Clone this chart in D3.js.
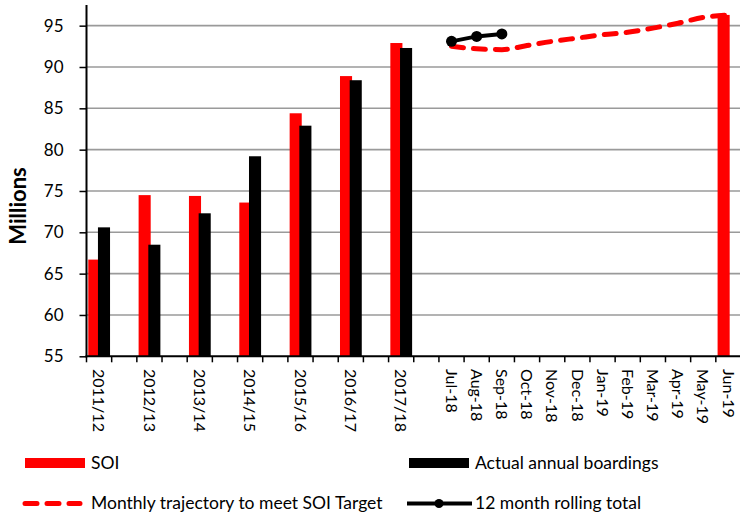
<!DOCTYPE html>
<html>
<head>
<meta charset="utf-8">
<script src="https://cdn.jsdelivr.net/npm/d3@7"></script>
<style>
  html, body { margin: 0; padding: 0; background: #fff; }
  svg { display: block; font-family: Lato, "Open Sans", sans-serif; }
</style>
</head>
<body>
<svg id="chart" width="740" height="516"></svg>
<script>
// ---- data ----
const categories = ["2011/12", "", "2012/13", "", "2013/14", "", "2014/15", "", "2015/16", "", "2016/17", "", "2017/18", "",
  "Jul-18", "Aug-18", "Sep-18", "Oct-18", "Nov-18", "Dec-18", "Jan-19", "Feb-19", "Mar-19", "Apr-19", "May-19", "Jun-19"];
const soi = [66.7, null, 74.5, null, 74.4, null, 73.6, null, 84.4, null, 88.9, null, 92.9, null,
  null, null, null, null, null, null, null, null, null, null, null, 96.3];
const boardings = [70.6, null, 68.5, null, 72.3, null, 79.2, null, 82.9, null, 88.4, null, 92.3, null,
  null, null, null, null, null, null, null, null, null, null, null, null];
const trajectory = [null, null, null, null, null, null, null, null, null, null, null, null, null, null,
  92.5, 92.2, 92.1, 92.6, 93.1, 93.5, 93.9, 94.2, 94.7, 95.3, 96.0, 96.3];
const rolling = [null, null, null, null, null, null, null, null, null, null, null, null, null, null,
  93.1, 93.7, 94.0, null, null, null, null, null, null, null, null, null];
const yTicks = [55, 60, 65, 70, 75, 80, 85, 90, 95];
const yLabel = "Millions";
const legendItems = ["SOI", "Actual annual boardings", "Monthly trajectory to meet SOI Target", "12 month rolling total"];

(function () {
// ---- layout ----
const svg = d3.select("#chart");
const pLeft = 86.5, pRight = 741, pTop = 5, pBottom = 356.3;

const x = d3.scaleBand().domain(d3.range(categories.length)).range([pLeft, pRight]).padding(0);
const y = d3.scaleLinear().domain([55, 97.5]).range([pBottom, pTop]);
const bw = x.bandwidth();

// gridlines
svg.append("g").selectAll("line").data(yTicks.filter(t => t > 55)).join("line")
  .attr("x1", pLeft).attr("x2", 740).attr("y1", d => y(d)).attr("y2", d => y(d))
  .attr("stroke", "#9a9a9a").attr("stroke-width", 1.6);

// bars
const idx = d3.range(categories.length);
svg.append("g").selectAll("rect").data(idx.filter(i => soi[i] != null)).join("rect")
  .attr("x", i => x(i) + 0.07 * bw).attr("width", 0.48 * bw)
  .attr("y", i => y(soi[i])).attr("height", i => pBottom - y(soi[i]))
  .attr("fill", "#ff0000");
svg.append("g").selectAll("rect").data(idx.filter(i => boardings[i] != null)).join("rect")
  .attr("x", i => x(i) + 0.455 * bw).attr("width", 0.48 * bw)
  .attr("y", i => y(boardings[i])).attr("height", i => pBottom - y(boardings[i]))
  .attr("fill", "#000");

// trajectory dashed line
svg.append("path")
  .datum(idx.filter(i => trajectory[i] != null))
  .attr("d", d3.line().x(i => x(i) + bw / 2).y(i => y(trajectory[i])).curve(d3.curveMonotoneX))
  .attr("fill", "none").attr("stroke", "#ff0000").attr("stroke-width", 5)
  .attr("stroke-dasharray", "12,10").attr("stroke-linecap", "round");

// rolling line
const rIdx = idx.filter(i => rolling[i] != null);
svg.append("path").datum(rIdx)
  .attr("d", d3.line().x(i => x(i) + bw / 2).y(i => y(rolling[i])))
  .attr("fill", "none").attr("stroke", "#000").attr("stroke-width", 4);
svg.append("g").selectAll("circle").data(rIdx).join("circle")
  .attr("cx", i => x(i) + bw / 2).attr("cy", i => y(rolling[i])).attr("r", 5.5).attr("fill", "#000");

// y axis
const yAxis = d3.axisLeft(y).tickValues(yTicks).tickSize(7).tickPadding(16).tickFormat(d3.format("d"));
const gy = svg.append("g").attr("transform", `translate(${pLeft},0)`).call(yAxis);
gy.select(".domain").remove();
gy.selectAll(".tick line").attr("stroke", "#000").attr("stroke-width", 1.5);
gy.selectAll(".tick text").attr("font-size", 17).attr("fill", "#000").style("font-family", "Lato, sans-serif");
svg.append("line").attr("x1", pLeft).attr("x2", pLeft).attr("y1", pTop).attr("y2", pBottom + 1)
  .attr("stroke", "#000").attr("stroke-width", 2);

// x axis
svg.append("line").attr("x1", pLeft - 1).attr("x2", 740).attr("y1", pBottom).attr("y2", pBottom)
  .attr("stroke", "#000").attr("stroke-width", 2);
svg.append("g").selectAll("line").data(d3.range(categories.length + 1)).join("line")
  .attr("x1", i => pLeft + i * bw).attr("x2", i => pLeft + i * bw)
  .attr("y1", pBottom).attr("y2", pBottom + 6)
  .attr("stroke", "#000").attr("stroke-width", 1.5);
svg.append("g").selectAll("text").data(idx.filter(i => categories[i] !== "")).join("text")
  .attr("transform", i => `translate(${x(i) + bw / 2},369) rotate(90)`)
  .attr("dy", "0.36em")
  .attr("font-size", 16).attr("fill", "#000")
  .text(i => categories[i]);

// y label
svg.append("text").attr("transform", "translate(18,206) rotate(-90)")
  .attr("text-anchor", "middle").attr("dy", "0.36em")
  .attr("font-size", 22).attr("font-weight", "bold").attr("fill", "#000")
  .text(yLabel);

// legend
const lg = svg.append("g").attr("font-size", 17.5).attr("fill", "#000");
lg.append("rect").attr("x", 25).attr("y", 458).attr("width", 60).attr("height", 10).attr("fill", "#ff0000");
lg.append("text").attr("x", 91).attr("y", 469).text(legendItems[0]);
lg.append("rect").attr("x", 409).attr("y", 458).attr("width", 60).attr("height", 10).attr("fill", "#000");
lg.append("text").attr("x", 475).attr("y", 469).text(legendItems[1]);
lg.append("line").attr("x1", 25).attr("x2", 80).attr("y1", 503.5).attr("y2", 503.5)
  .attr("stroke", "#ff0000").attr("stroke-width", 5).attr("stroke-dasharray", "12,10").attr("stroke-linecap", "round");
lg.append("text").attr("x", 91).attr("y", 509).text(legendItems[2]);
lg.append("line").attr("x1", 407).attr("x2", 472).attr("y1", 503.5).attr("y2", 503.5)
  .attr("stroke", "#000").attr("stroke-width", 4);
lg.append("circle").attr("cx", 439).attr("cy", 503.5).attr("r", 4.5).attr("fill", "#000");
lg.append("text").attr("x", 475).attr("y", 509).text(legendItems[3]);
})();
</script>
</body>
</html>
